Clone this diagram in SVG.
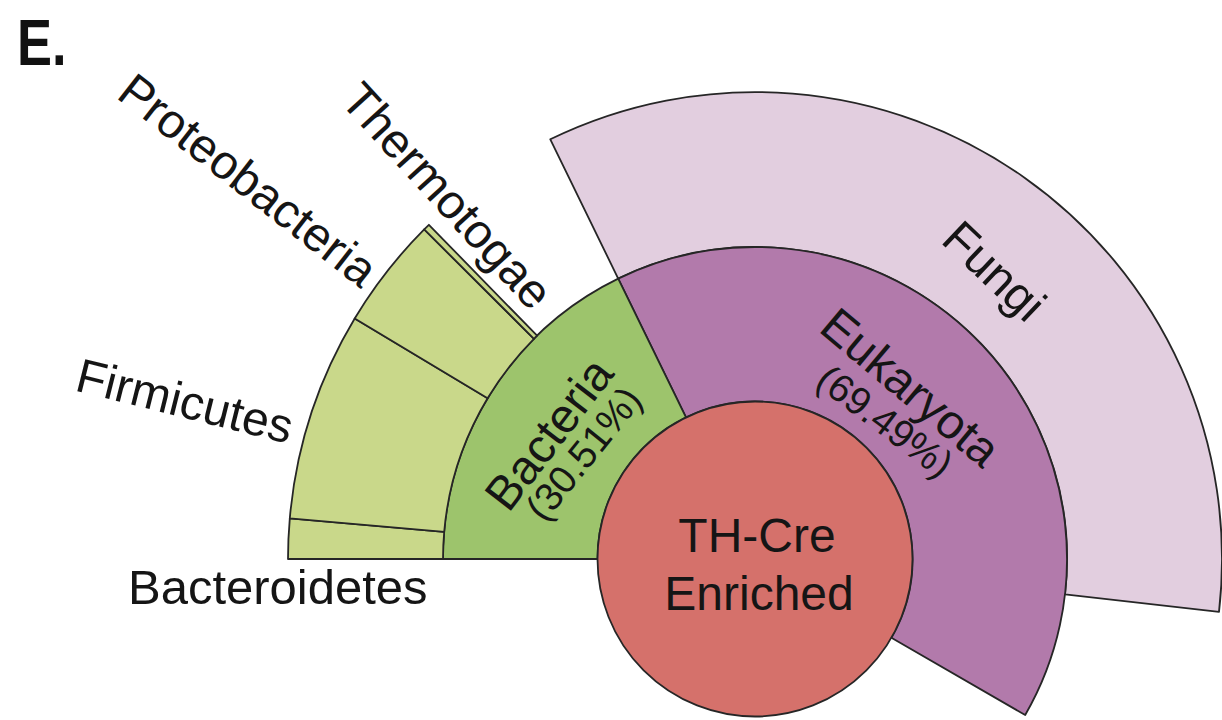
<svg xmlns="http://www.w3.org/2000/svg" width="1222" height="720" viewBox="0 0 1222 720">
<style>
.seg{stroke:#262626;stroke-width:1.8;stroke-linejoin:round}
.phy{fill:#c9d88a}
.bac{fill:#9dc46c}
.euk{fill:#b27aab}
.fun{fill:#e2cedf}
.ctr{fill:#d5716b}
.lbl{font-family:"Liberation Sans",Arial,sans-serif;font-size:48px;fill:#151515}
.pct{font-family:"Liberation Sans",Arial,sans-serif;font-size:39px;fill:#151515}
.tag{font-family:"Liberation Sans",Arial,sans-serif;font-weight:bold;font-size:64px;fill:#111}
</style>
<rect width="1222" height="720" fill="#ffffff"/>
<text class="tag" transform="translate(17,65) scale(0.82,1)">E.</text>
<g id="fungi">
<path class="seg fun" d="M618.2 278.6 L550.3 139.3 A467 467 0 0 1 1219 611.9 L1065 594.3 A312 312 0 0 0 618.2 278.6 Z"/>
<text class="lbl" text-anchor="middle" transform="translate(983,283) rotate(43.5)">Fungi</text>
</g>
<g id="eukaryota">
<path class="seg euk" d="M686 417.4 L618.2 278.6 A312 312 0 0 1 1025.2 715 L891.4 637.75 A157.5 157.5 0 0 0 686 417.4 Z"/>
<text class="lbl" text-anchor="middle" transform="translate(900,400) rotate(40)">Eukaryota</text>
<text class="pct" text-anchor="middle" transform="translate(877,432) rotate(37)">(69.49%)</text>
</g>
<g id="bacteria">
<path class="seg bac" d="M597.5 559 L443 559 A312 312 0 0 1 618.2 278.6 L686 417.4 A157.5 157.5 0 0 0 597.5 559 Z"/>
<text class="lbl" text-anchor="middle" transform="translate(562,444) rotate(-52.5)">Bacteria</text>
<text class="pct" text-anchor="middle" transform="translate(594,462) rotate(-51)">(30.51%)</text>
</g>
<g id="bacteroidetes">
<path class="seg phy" d="M443 559 L288 559 A467 467 0 0 1 289.8 518.3 L444.2 531.8 A312 312 0 0 0 443 559 Z"/>
<text class="lbl" x="128" y="604" style="font-size:49px">Bacteroidetes</text>
</g>
<g id="firmicutes">
<path class="seg phy" d="M444.2 531.8 L289.8 518.3 A467 467 0 0 1 354.7 318.5 L487.6 398.3 A312 312 0 0 0 444.2 531.8 Z"/>
<text class="lbl" text-anchor="middle" transform="translate(181,417) rotate(14)">Firmicutes</text>
</g>
<g id="proteobacteria">
<path class="seg phy" d="M487.6 398.3 L354.7 318.5 A467 467 0 0 1 424.2 229.4 L534 338.8 A312 312 0 0 0 487.6 398.3 Z"/>
<text class="lbl" text-anchor="middle" transform="translate(238,193) rotate(38)">Proteobacteria</text>
</g>
<g id="thermotogae">
<path class="seg phy" d="M534 338.8 L424.2 229.4 A467 467 0 0 1 428.9 224.8 L537.1 335.7 A312 312 0 0 0 534 338.8 Z"/>
<text class="lbl" text-anchor="middle" transform="translate(435,207) rotate(47.6)">Thermotogae</text>
</g>
<g id="th-cre-enriched">
<circle class="seg ctr" cx="755" cy="559" r="157.5"/>
<text class="lbl" text-anchor="middle" x="757" y="552">TH-Cre</text>
<text class="lbl" text-anchor="middle" x="759" y="610">Enriched</text>
</g>
<g id="connectors"></g>
</svg>
